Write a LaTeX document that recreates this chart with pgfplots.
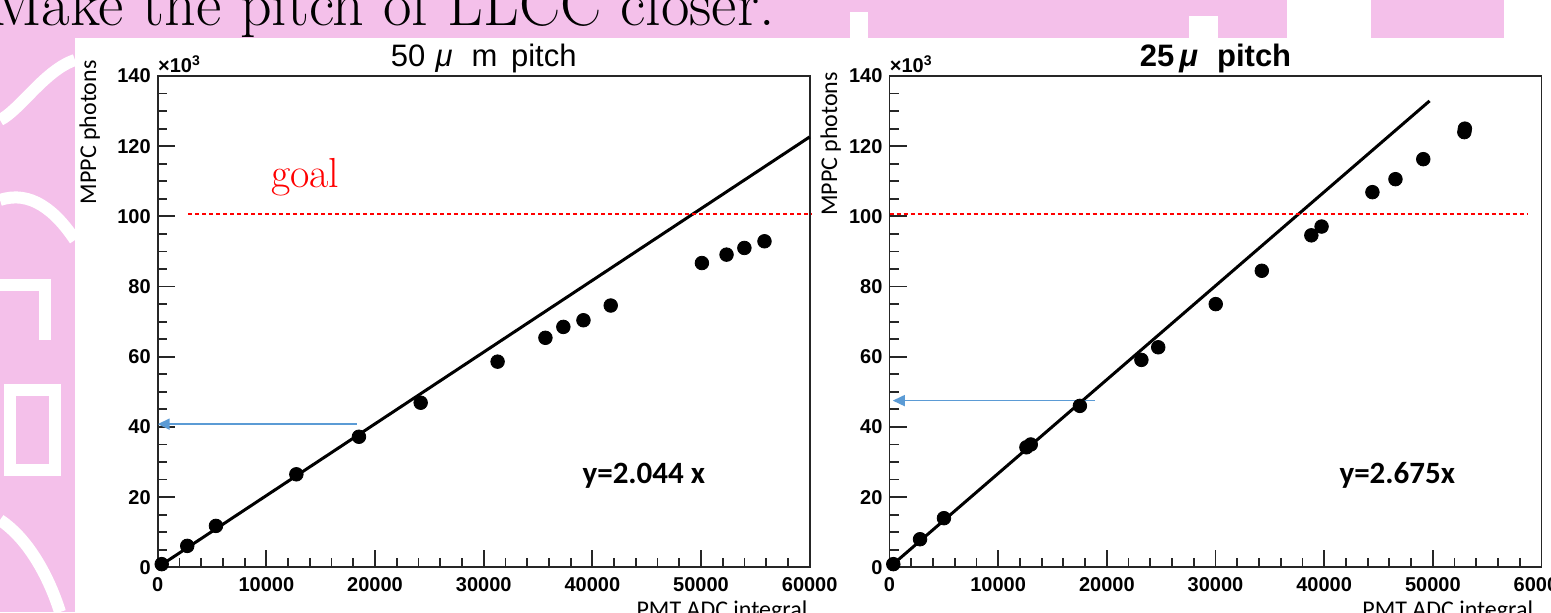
\documentclass[border=0pt]{standalone}
\usepackage{fontspec}
\setmainfont{Liberation Sans}
\newfontfamily\calibri{Carlito}
\newfontfamily\lmroman{Latin Modern Roman}
\usepackage{pgfplots}
\pgfplotsset{compat=1.18}
\usetikzlibrary{arrows.meta}

\definecolor{slidepink}{RGB}{244,192,234}
\definecolor{arrowblue}{RGB}{91,155,213}

\pgfplotsset{
  rootpad/.style={
    scale only axis,
    width=326pt, height=245.65pt,
    anchor=south west,
    clip=false,
    xmin=0, xmax=60000, ymin=0, ymax=140,
    axis line style={line width=0.9pt, draw=black!85},
    xtick={0,10000,20000,30000,40000,50000,60000},
    xticklabels={0,10000,20000,30000,40000,50000,60000},
    ytick={0,20,40,60,80,100,120,140},
    yticklabels={0,20,40,60,80,100,120,140},
    minor xtick={2000,4000,...,58000},
    minor ytick={5,10,...,135},
    tick align=inside,
    xtick pos=bottom, ytick pos=left,
    major tick length=8.5pt, minor tick length=4.5pt,
    tick style={line width=0.9pt, black!85},
    tick label style={font=\bfseries\fontsize{10}{12}\selectfont},
    xticklabel style={yshift=-1.5pt},
  },
  fitline/.style={black, line width=1.5pt},
  pts/.style={only marks, mark=*, mark size=3.4pt, black, mark options={fill=black}},
  goalline/.style={red, line width=0.6pt, dash pattern=on 2pt off 1.5pt},
  bluearrow/.style={arrowblue, line width=0.8pt, -{Triangle[length=6pt, width=5.5pt]}},
}

\begin{document}
\begin{tikzpicture}
\useasboundingbox (0,0) rectangle (775.5pt,306pt);
\clip (0,0) rectangle (775.5pt,306pt);

% slide background
\begin{scope}[x=0.5pt,y=0.5pt]
\fill[slidepink] (0,0) rectangle (1551,612);
\fill[white] (75,0) rectangle (1551,574);
\fill[white] (1287,574) rectangle (1371,612);
\fill[white] (1504,574) rectangle (1551,612);
\fill[white] (1189,574) rectangle (1218,596);
\fill[white] (850,574) rectangle (868,600);
\begin{scope}[white, line width=6]
\draw (75,552) .. controls (45,542) and (20,502) .. (0,492);
\draw (0,412) .. controls (30,422) and (55,402) .. (75,372);
\draw (0,327) -- (45,327) -- (45,272);
\draw (10,222) rectangle (55,142);
\draw (0,92) .. controls (30,72) and (50,32) .. (60,0);
\end{scope}
\node[anchor=base east, inner sep=0pt, font=\lmroman\fontsize{31}{31}\selectfont]
  at (775,586) {Make the pitch of LLCC closer.};
\end{scope}

% left pad: 50 um pitch
\begin{axis}[rootpad, at={(78.85pt,22.35pt)}]
\addplot[fitline] coordinates {(0,0) (60000,122.64)};
\addplot[pts] coordinates {
  (370,0.9) (2720,6.1) (5360,11.8) (12760,26.5) (18520,37.2) (24200,46.9)
  (31280,58.6) (35680,65.4) (37330,68.5) (39180,70.4) (41690,74.6)
  (50080,86.7) (52350,89.1) (53990,91.0) (55840,92.9)
};
\addplot[goalline] coordinates {(2790,100.7) (60200,100.7)};
\addplot[bluearrow] coordinates {(18300,40.8) (0,40.8)};
\node[anchor=base, font=\fontsize{15.5}{16}\selectfont] at ([yshift=5pt]rel axis cs:0.5,1) {50\,\,\textit{μ}\,\, m\, pitch};
\node[anchor=south west, inner sep=0pt, font=\bfseries\fontsize{10}{10}\selectfont] at ([yshift=1.5pt]rel axis cs:0,1) {×10\textsuperscript{3}};
\node[rotate=90, anchor=base east, inner sep=0pt, font=\calibri\fontsize{12}{12}\selectfont] at ([xshift=-30.8pt,yshift=8pt]rel axis cs:0,1) {MPPC photons};
\node[anchor=base east, inner sep=0pt, font=\calibri\fontsize{12}{12}\selectfont] at ([xshift=-1pt,yshift=-25pt]rel axis cs:1,0) {PMT ADC integral};
\node[anchor=base, font=\calibri\bfseries\fontsize{15.5}{16}\selectfont] at (axis cs:44740,24) {y=2.044 x};
\node[red, anchor=base, inner sep=0pt, font=\lmroman\fontsize{21}{21}\selectfont] at (axis cs:13580,108.1) {goal};
\end{axis}

% right pad: 25 um pitch
\begin{axis}[rootpad, at={(444.75pt,22.35pt)}]
\addplot[fitline] coordinates {(0,0) (49700,132.9)};
\addplot[pts] coordinates {
  (350,0.9) (2810,8.0) (5010,14.0) (12600,34.2) (13000,35.0) (17520,46.0)
  (23180,59.1) (24730,62.7) (30020,75.0) (34260,84.5) (38820,94.6)
  (39760,97.1) (44440,106.9) (46560,110.6) (49120,116.3) (52900,124.0) (52950,125.0)
};
\addplot[goalline] coordinates {(0,100.7) (58740,100.7)};
\addplot[bluearrow] coordinates {(18900,47.5) (300,47.5)};
\node[anchor=base, font=\bfseries\fontsize{15.5}{16}\selectfont] at ([yshift=5pt]rel axis cs:0.5,1) {25\,\textit{μ}\,\, pitch};
\node[anchor=south west, inner sep=0pt, font=\bfseries\fontsize{10}{10}\selectfont] at ([yshift=1.5pt]rel axis cs:0,1) {×10\textsuperscript{3}};
\node[rotate=90, anchor=base east, inner sep=0pt, font=\calibri\fontsize{12}{12}\selectfont] at ([xshift=-26.2pt,yshift=2.2pt]rel axis cs:0,1) {MPPC photons};
\node[anchor=base east, inner sep=0pt, font=\calibri\fontsize{12}{12}\selectfont] at ([xshift=-4pt,yshift=-25pt]rel axis cs:1,0) {PMT ADC integral};
\node[anchor=base, font=\calibri\bfseries\fontsize{15.5}{16}\selectfont] at (axis cs:46735,24) {y=2.675x};
\end{axis}
\end{tikzpicture}
\end{document}
